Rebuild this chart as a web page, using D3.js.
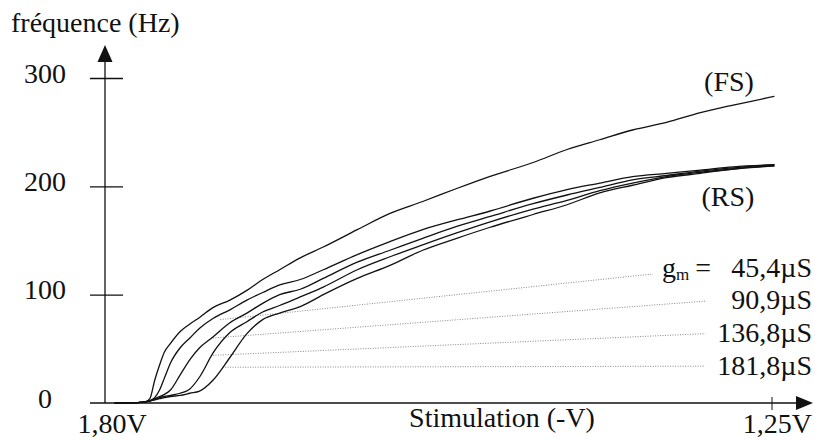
<!DOCTYPE html>
<html>
<head>
<meta charset="utf-8">
<script src="https://cdn.jsdelivr.net/npm/d3@7"></script>
<style>
  body { margin: 0; background: #fff; }
  text { font-family: "Liberation Serif", "Times New Roman", serif; fill: #111; }
</style>
</head>
<body>
<figure id="plot" style="margin:0"></figure>
<script>
// stimulation (-V), shared by every curve
const stimV = [1.792, 1.779, 1.767, 1.763, 1.759, 1.755, 1.751, 1.746, 1.738, 1.730, 1.722,
  1.711, 1.697, 1.683, 1.670, 1.656, 1.639, 1.620, 1.592, 1.565, 1.538, 1.510, 1.483,
  1.447, 1.419, 1.392, 1.365, 1.337, 1.309, 1.282, 1.248];

// frequency (Hz) for each neuron model
const freqFS = [0, 0, 1, 4, 21, 35, 47, 55, 66, 73, 79, 88, 95, 104, 114, 123, 134, 144,
  160, 175, 186, 198, 209, 222, 234, 243, 252, 259, 268, 275, 283];
const freqRS454 = [0, 0, 1, 2, 5, 12, 23, 37, 51, 60, 69, 78, 86, 95, 102, 109, 114, 123,
  137, 149, 160, 169, 177, 189, 197, 203, 209, 212, 215, 218, 220];
const freqRS909 = [0, 0, 1, 2, 4, 6, 8, 12, 26, 40, 51, 61, 74, 83, 92, 100, 105, 115,
  130, 141, 152, 163, 172, 184, 192, 199, 206, 210, 214, 217, 220];
const freqRS1368 = [0, 0, 1, 2, 3, 5, 6, 7, 9, 13, 24, 46, 65, 75, 84, 90, 98, 107,
  123, 135, 146, 157, 167, 179, 187, 196, 203, 209, 213, 216, 219];
const freqRS1818 = [0, 0, 1, 2, 3, 4, 5, 6, 7, 9, 11, 21, 42, 64, 77, 83, 89, 100,
  115, 127, 141, 152, 162, 174, 183, 194, 201, 208, 212, 216, 219];

const yTicks = [0, 100, 200, 300];
const xTickLabels = ["1,80V", "1,25V"];
const gmLabels = ["45,4µS", "90,9µS", "136,8µS", "181,8µS"];

// leader lines: [V on curve, Hz on curve, V at label, Hz at label]
const leaders = [
  [1.705, 77, 1.349, 119],
  [1.711, 60, 1.305, 94],
  [1.711, 44, 1.305, 64],
  [1.703, 33, 1.305, 34]
];

const width = 815, height = 441;

const svg = d3.select("figure#plot")
  .append("svg")
  .attr("width", width)
  .attr("height", height);

const x = d3.scaleLinear().domain([1.80, 1.25]).range([105, 772]);
const y = d3.scaleLinear().domain([0, 300]).range([403, 78]);

// Y axis with ticks crossing the line
const yAxis = svg.append("g")
  .attr("transform", "translate(" + x(1.80) + ",0)")
  .call(d3.axisLeft(y).tickValues(yTicks).tickSize(15).tickPadding(0).tickFormat(d3.format("d")));
yAxis.select(".domain").remove();
yAxis.selectAll(".tick line")
  .attr("x1", 18)
  .attr("stroke", "#111")
  .attr("stroke-width", 1.3)
  .filter(d => d === 0).remove();
yAxis.selectAll(".tick text")
  .attr("x", -60)
  .attr("dy", "0.15em")
  .attr("text-anchor", "middle")
  .style("font-family", "'Liberation Serif', serif")
  .style("font-size", "28px")
  .attr("fill", "#111");

svg.append("line")
  .attr("x1", x(1.80)).attr("x2", x(1.80))
  .attr("y1", y(0)).attr("y2", 60)
  .attr("stroke", "#111").attr("stroke-width", 1.3);
svg.append("path")
  .attr("d", "M" + x(1.80) + ",45 l-7.5,17 l15,0 z")
  .attr("fill", "#111");

// X axis
svg.append("line")
  .attr("x1", 90).attr("x2", 800)
  .attr("y1", y(0)).attr("y2", y(0))
  .attr("stroke", "#111").attr("stroke-width", 1.3);
svg.append("path")
  .attr("d", "M813," + y(0) + " l-17,-7 l0,14 z")
  .attr("fill", "#111");
svg.append("line")
  .attr("x1", x(1.25)).attr("x2", x(1.25))
  .attr("y1", y(0) - 6).attr("y2", y(0) + 7)
  .attr("stroke", "#111").attr("stroke-width", 1);

svg.append("text").attr("x", 112).attr("y", 433)
  .attr("text-anchor", "middle").style("font-size", "28px").text(xTickLabels[0]);
svg.append("text").attr("x", 812).attr("y", 433)
  .attr("text-anchor", "end").style("font-size", "28px").text(xTickLabels[1]);
svg.append("text").attr("x", 502).attr("y", 427)
  .attr("text-anchor", "middle").style("font-size", "28px").text("Stimulation (-V)");
svg.append("text").attr("x", 11).attr("y", 32)
  .style("font-size", "28px").text("fréquence (Hz)");

// leader lines
svg.append("g").selectAll("line")
  .data(leaders)
  .enter()
  .append("line")
  .attr("x1", d => x(d[0])).attr("y1", d => y(d[1]))
  .attr("x2", d => x(d[2])).attr("y2", d => y(d[3]))
  .attr("stroke", "#888")
  .attr("stroke-width", 1)
  .attr("stroke-dasharray", "1,1.5");

// curves
const series = [freqFS, freqRS454, freqRS909, freqRS1368, freqRS1818];
const line = d3.line()
  .x((d, i) => x(stimV[i]))
  .y(d => y(d))
  .curve(d3.curveMonotoneX);
svg.append("g").selectAll("path")
  .data(series)
  .enter()
  .append("path")
  .attr("d", d => line(d))
  .attr("fill", "none")
  .attr("stroke", "#111")
  .attr("stroke-width", 1.3)
  .attr("stroke-linejoin", "round");

// curve names
svg.append("text").attr("x", 729).attr("y", 91)
  .attr("text-anchor", "middle").style("font-size", "28px").text("(FS)");
svg.append("text").attr("x", 728).attr("y", 206)
  .attr("text-anchor", "middle").style("font-size", "28px").text("(RS)");

// g_m legend
const gm = svg.append("text").attr("x", 662).attr("y", 277).style("font-size", "28px");
gm.append("tspan").text("g");
gm.append("tspan").attr("dy", 3).style("font-size", "17px").text("m");
gm.append("tspan").attr("dy", -3).attr("dx", 6).text("=");

const gmY = [277, 309, 342, 375];
svg.append("g").selectAll("text")
  .data(gmLabels)
  .enter()
  .append("text")
  .attr("x", 812)
  .attr("y", (d, i) => gmY[i])
  .attr("text-anchor", "end")
  .style("font-size", "28px")
  .text(d => d);
</script>
</body>
</html>
